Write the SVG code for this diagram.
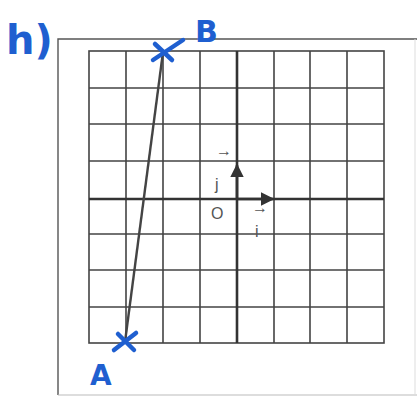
<svg xmlns="http://www.w3.org/2000/svg" width="417" height="397" viewBox="0 0 417 397">
<style>
.g{stroke:#444;stroke-width:1.6;fill:none}
.ax{stroke:#333;stroke-width:2.6;fill:none}
.hand{fill:#1f5fd0;font-family:"DejaVu Sans",sans-serif;font-weight:bold}
.mark{stroke:#1f5fd0;stroke-width:4.5;stroke-linecap:round;fill:none}
.lbl{fill:#555;font-family:"Liberation Sans",sans-serif;font-size:16px}
</style>
<defs>
<marker id="ah" viewBox="0 0 10 10" refX="9" refY="5" markerWidth="5.2" markerHeight="5.2" orient="auto" markerUnits="strokeWidth">
<path d="M0,0 L10,5 L0,10 z" fill="#333"/>
</marker>
</defs>
<rect width="417" height="397" fill="#fff"/>
<g id="frame">
<path d="M58,395 L58,39 L417,39" stroke="#555" stroke-width="1.4" fill="none"/>
<path d="M58,395 L417,395" stroke="#bbb" stroke-width="1.2" fill="none"/>
<path d="M415,39 L415,395" stroke="#ddd" stroke-width="1" fill="none"/>
</g>
<g id="grid">
<rect x="89" y="51" width="295" height="292" class="g"/>
<path class="g" d="M126,51V343M163,51V343M200,51V343M274,51V343M310,51V343M347,51V343M89,88H384M89,124H384M89,161H384M89,234H384M89,270H384M89,307H384"/>
<path class="ax" d="M237,51V343M89,199H384"/>
</g>
<g id="vectors">
<line x1="237" y1="199" x2="237" y2="165" class="ax" marker-end="url(#ah)"/>
<line x1="237" y1="199" x2="273" y2="199" class="ax" marker-end="url(#ah)"/>
<text class="lbl" x="215" y="190">j</text>
<text class="lbl" x="216" y="156" font-size="10">→</text>
<text class="lbl" x="211" y="219">O</text>
<text class="lbl" x="255" y="237">i</text>
<text class="lbl" x="252" y="213" font-size="10">→</text>
</g>
<g id="connectors">
<line x1="163" y1="52" x2="125" y2="342" stroke="#444" stroke-width="2.4"/>
</g>
<g id="B">
<path class="mark" d="M155,44 L172,60 M153,60 L183,40"/>
<text class="hand" x="195" y="42" font-size="30">B</text>
</g>
<g id="A">
<path class="mark" d="M118,334 L134,350 M114,350 L136,333"/>
<text class="hand" x="90" y="385" font-size="28">A</text>
</g>
<g id="label">
<text class="hand" x="6" y="54" font-size="40">h)</text>
</g>
</svg>
